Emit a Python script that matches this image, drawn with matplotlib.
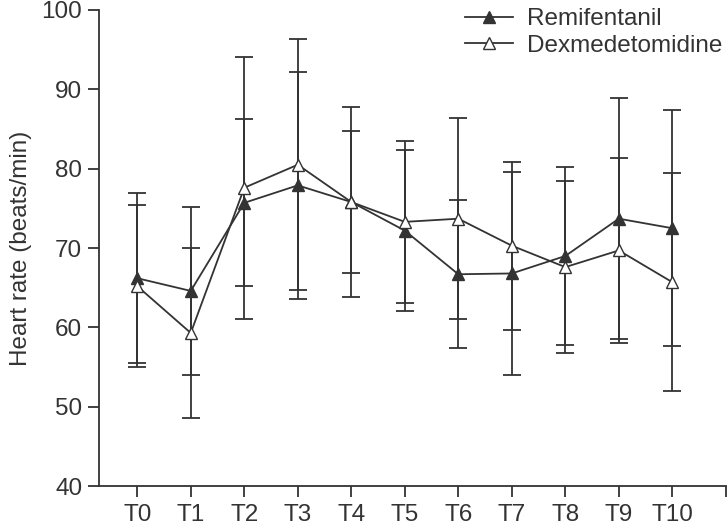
import numpy as np
import matplotlib.pyplot as plt

plt.rcParams['font.family'] = ['Liberation Sans', 'DejaVu Sans']

labels = ['T0', 'T1', 'T2', 'T3', 'T4', 'T5', 'T6', 'T7', 'T8', 'T9', 'T10']
remi_mean = [66.2, 64.6, 75.7, 77.9, 75.8, 72.2, 66.7, 66.8, 69.0, 73.7, 72.5]
remi_sd = [10.7, 10.6, 10.5, 14.3, 12.0, 10.1, 9.3, 12.8, 11.2, 15.2, 14.9]
dex_mean = [65.2, 59.3, 77.6, 80.5, 75.8, 73.3, 73.7, 70.3, 67.6, 69.7, 65.7]
dex_sd = [10.2, 10.7, 16.5, 15.8, 8.9, 10.2, 12.7, 10.6, 10.8, 11.6, 13.7]

col = '#333333'
fs = 17.5
x = np.arange(len(labels))

fig = plt.figure(figsize=(7.28, 5.25), dpi=100)
ax = fig.add_axes([0.136, 0.074, 0.861, 0.907])

e1 = ax.errorbar(x, remi_mean, yerr=remi_sd, color=col, lw=1.3, elinewidth=1.3,
                 capsize=6.5, capthick=1.3, marker='^', ms=8, mfc=col, mec=col,
                 zorder=2)
e2 = ax.errorbar(x, dex_mean, yerr=dex_sd, color=col, lw=1.3, elinewidth=1.3,
                 capsize=6.5, capthick=1.3, marker='^', ms=8, mfc='white', mec=col,
                 zorder=3)

ax.set_xlim(-0.715, 11)
ax.set_ylim(40, 100)
ax.set_xticks(list(x) + [11])
ax.set_xticklabels(labels + [''])
ax.set_yticks(np.arange(40, 101, 10))
ax.set_ylabel('Heart rate (beats/min)', fontsize=fs, color=col, labelpad=7)

for s in ['top', 'right']:
    ax.spines[s].set_visible(False)
for s in ['left', 'bottom']:
    ax.spines[s].set_color(col)
    ax.spines[s].set_linewidth(1.3)
ax.tick_params(colors=col, labelsize=fs, width=1.3, length=8)
ax.tick_params(axis='x', pad=5)
ax.tick_params(axis='y', pad=4)

leg = ax.legend([e1[0], e2[0]], ['Remifentanil', 'Dexmedetomidine'],
                loc='upper right', bbox_to_anchor=(1.03, 1.05), frameon=False,
                fontsize=fs, handlelength=2.0, handletextpad=0.58,
                labelspacing=0.2, labelcolor=col)

plt.savefig('out.png')
